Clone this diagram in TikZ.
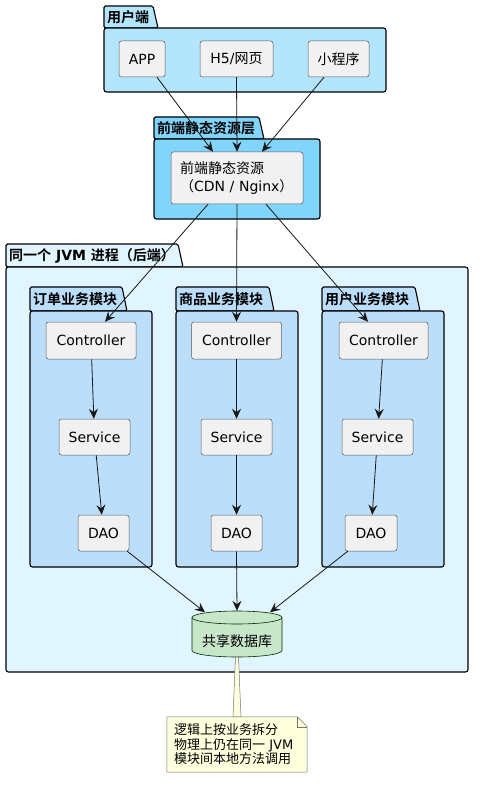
\documentclass[tikz,border=0pt]{standalone}
\usepackage{fontspec}
\setmainfont{DejaVu Sans}
\newfontfamily\cjk{Noto Sans CJK SC}[BoldFont={Noto Sans CJK SC Bold}]
\usetikzlibrary{arrows.meta}
\definecolor{cUser}{HTML}{B3E5FC}
\definecolor{cFront}{HTML}{81D4FA}
\definecolor{cJvm}{HTML}{E1F5FE}
\definecolor{cMod}{HTML}{BBDEFB}
\definecolor{cNode}{HTML}{F1F1F1}
\definecolor{cDb}{HTML}{C8E6C9}
\definecolor{cNote}{HTML}{FEFFDD}
\definecolor{cLine}{HTML}{181818}
\newcommand\pkgbox[9]{%
  \filldraw[pkgline, fill=#8] (#2,#5) -- (#2,#3) -- (#4,#3) -- ({#4+5},#5) -- cycle;
  \filldraw[pkgline, fill=#8, rounded corners=2.5pt] (#2,#5) rectangle (#6,#7);
  \node[pkglabel] (#1) at ({#2+2},{(#3+#5)/2}) {#9};
}
\begin{document}
\begin{tikzpicture}[x=1pt,y=-1pt,
  pkgline/.style={draw=black, line width=1.1pt, rounded corners=1.5pt},
  pkglabel/.style={anchor=west, inner sep=1pt, font=\fontsize{14}{17}\selectfont\bfseries},
  box/.style={draw=black!65, line width=0.5pt, fill=cNode, rounded corners=2.5pt,
    font=\fontsize{14}{17}\selectfont, inner sep=0pt, minimum height=36},
  arr/.style={draw=cLine, line width=0.8pt, -{Stealth[length=10pt,width=9pt,inset=3.5pt]}},
  notestyle/.style={draw=black!55, line width=0.5pt, fill=cNote}]
\useasboundingbox (0,0) rectangle (482,786);
\fill[white] (0,0) rectangle (482,786);

% packages
\pkgbox{pUser}{104}{6}{153}{28}{386}{92}{cUser}{\cjk 用户端}
\pkgbox{pFront}{154}{117}{259}{139}{320}{219}{cFront}{\cjk 前端静态资源层}
\pkgbox{pJvm}{6}{244}{178}{267}{468}{672}{cJvm}{{\cjk 同一个} JVM {\cjk 进程（后端）}}
\pkgbox{pOrder}{30}{287}{122}{311}{152}{567}{cMod}{\cjk 订单业务模块}
\pkgbox{pGoods}{176}{287}{269}{311}{298}{567}{cMod}{\cjk 商品业务模块}
\pkgbox{pUserMod}{322}{287}{415}{311}{444}{567}{cMod}{\cjk 用户业务模块}

% client nodes
\node[box, minimum width=46] (app) at (142,59) {APP};
\node[box, minimum width=73] (h5) at (236.5,59) {H5/{\cjk 网页}};
\node[box, minimum width=61] (mini) at (338.5,59) {\cjk 小程序};

% front node
\node[box, minimum width=132, minimum height=52, align=left, text width=114,
  font=\fontsize{14}{18}\selectfont] (cdn) at (237,178) {{\cjk 前端静态资源}\\{\cjk （}CDN / Nginx{\cjk ）}};

% modules
\node[box, minimum width=90, minimum height=37] (c1) at (91,340.5) {Controller};
\node[box, minimum width=90, minimum height=37] (c2) at (236.5,340.5) {Controller};
\node[box, minimum width=89, minimum height=37] (c3) at (383.5,340.5) {Controller};
\node[box, minimum width=71] (s1) at (94.5,437) {Service};
\node[box, minimum width=71] (s2) at (236.5,437) {Service};
\node[box, minimum width=71] (s3) at (377.5,437) {Service};
\node[box, minimum width=51] (d1) at (103.5,533) {DAO};
\node[box, minimum width=51] (d2) at (236.5,533) {DAO};
\node[box, minimum width=52] (d3) at (371,533) {DAO};

% database
\node[minimum width=90, minimum height=46, inner sep=0pt] (db) at (237,634) {};
\filldraw[draw=black!60!green!40!black, line width=0.6pt, fill=cDb]
  (192,617.5) -- (192,650.5) arc[start angle=180, end angle=0, x radius=45, y radius=6.5] -- (282,617.5);
\filldraw[draw=black!60!green!40!black, line width=0.6pt, fill=cDb]
  (237,617.5) ellipse[x radius=45, y radius=6.5];
\node[font=\fontsize{14}{17}\selectfont, inner sep=0pt] (dblabel) at (237,641) {\cjk 共享数据库};

% note
\node[minimum width=140, minimum height=55, inner sep=0pt] (note) at (237,744.5) {};
\filldraw[notestyle] ([xshift=-1.5pt]db.south) -- ([xshift=1.5pt]db.south)
  -- ([xshift=4pt]note.north) -- ([xshift=-4pt]note.north) -- cycle;
\filldraw[notestyle] (note.north west) -- ([xshift=-10pt]note.north east)
  -- ([yshift=-10pt]note.north east) -- (note.south east) -- (note.south west) -- cycle;
\draw[notestyle, fill=none] ([xshift=-10pt]note.north east) -- ([xshift=-10pt,yshift=-10pt]note.north east)
  -- ([yshift=-10pt]note.north east);
\node[text width=126, inner sep=7pt, align=left,
  font=\fontsize{13}{14.5}\selectfont\cjk] (notetext) at (note)
  {逻辑上按业务拆分\\物理上仍在同一 {\fontspec{DejaVu Sans}JVM}\\模块间本地方法调用};

% connectors
\draw[arr] ([xshift=15pt]app.south) -- ([xshift=-24pt]cdn.north);
\draw[arr] (h5.south) -- (cdn.north);
\draw[arr] ([xshift=-14.5pt]mini.south) -- ([xshift=25pt]cdn.north);
\draw[arr] ([xshift=-29pt]cdn.south) -- ([xshift=14pt]c1.north);
\draw[arr] (cdn.south) -- (c2.north);
\draw[arr] ([xshift=29pt]cdn.south) -- ([xshift=-15.5pt]c3.north);
\draw[arr] (c1) -- (s1);
\draw[arr] (s1) -- (d1);
\draw[arr] (c2) -- (s2);
\draw[arr] (s2) -- (d2);
\draw[arr] (c3) -- (s3);
\draw[arr] (s3) -- (d3);
\draw[arr] ([xshift=-2pt]d1.south east) -- ([xshift=-32pt,yshift=-1.5pt]db.north);
\draw[arr] (d2.south) -- (db.north);
\draw[arr] ([xshift=3pt]d3.south west) -- ([xshift=33pt,yshift=-1.5pt]db.north);
\end{tikzpicture}
\end{document}
